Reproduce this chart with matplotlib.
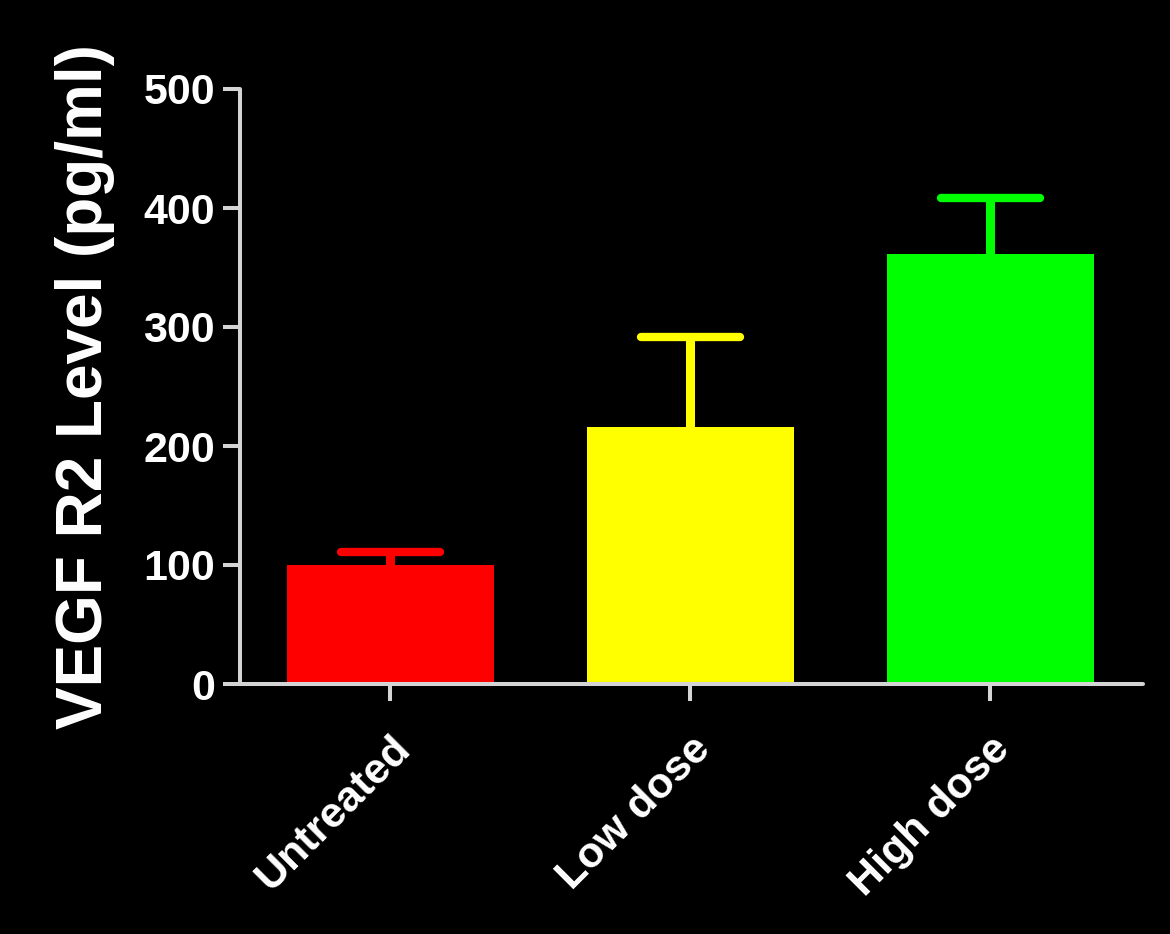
import numpy as np
import matplotlib
matplotlib.use('Agg')
import matplotlib.pyplot as plt
from matplotlib.transforms import ScaledTranslation

# dane
groups = ['Untreated', 'Low dose', 'High dose']
means = [100, 216, 361]
errors = [11, 76, 47]
colors = ['#ff0000', '#ffff00', '#00ff00']
yticks = [0, 100, 200, 300, 400, 500]

axis_col = '#d4d4d4'
plt.rcParams['font.family'] = ['Liberation Sans', 'DejaVu Sans']
plt.rcParams['font.weight'] = 'bold'

fig = plt.figure(figsize=(11.7, 9.34), dpi=100, facecolor='black')
ax = fig.add_axes([240 / 1170, 1 - 684 / 934, 903 / 1170, 595 / 934])
ax.set_facecolor('black')

x = np.arange(len(groups))
ax.bar(x, means, width=0.69, color=colors, zorder=2)

# słupki błędów tylko do góry, z zaokrąglonymi końcami
for xi, m, e, c in zip(x, means, errors, colors):
    ax.vlines(xi, m, m + e, colors=c, linewidth=6.5, zorder=1)
    ax.hlines(m + e, xi - 0.165, xi + 0.165, colors=c, linewidth=6.0,
              capstyle='round', zorder=1)

ax.set_xlim(-0.5, 2.51)
ax.set_ylim(0, 500)
ax.set_yticks(yticks)
ax.set_xticks(x)
ax.set_xticklabels(groups, rotation=45, ha='right', rotation_mode='anchor')

# lekkie przesunięcie etykiet w lewo, jak w oryginale
shift = ScaledTranslation(-8 / 100, 2 / 100, fig.dpi_scale_trans)
for lab in ax.get_xticklabels():
    lab.set_transform(lab.get_transform() + shift)

for s in ['top', 'right']:
    ax.spines[s].set_visible(False)
for s in ['left', 'bottom']:
    ax.spines[s].set_color(axis_col)
    ax.spines[s].set_linewidth(2.9)
    ax.spines[s].set_capstyle('round')

ax.tick_params(axis='both', colors=axis_col, width=2.9, length=12,
               labelcolor='white', labelsize=31)
ax.tick_params(axis='y', pad=6)
ax.tick_params(axis='x', pad=20)

ax.set_ylabel('VEGF R2 Level (pg/ml)', color='white', fontsize=46,
              fontweight='bold', labelpad=20)

fig.savefig('out.png', dpi=100, facecolor='black')
